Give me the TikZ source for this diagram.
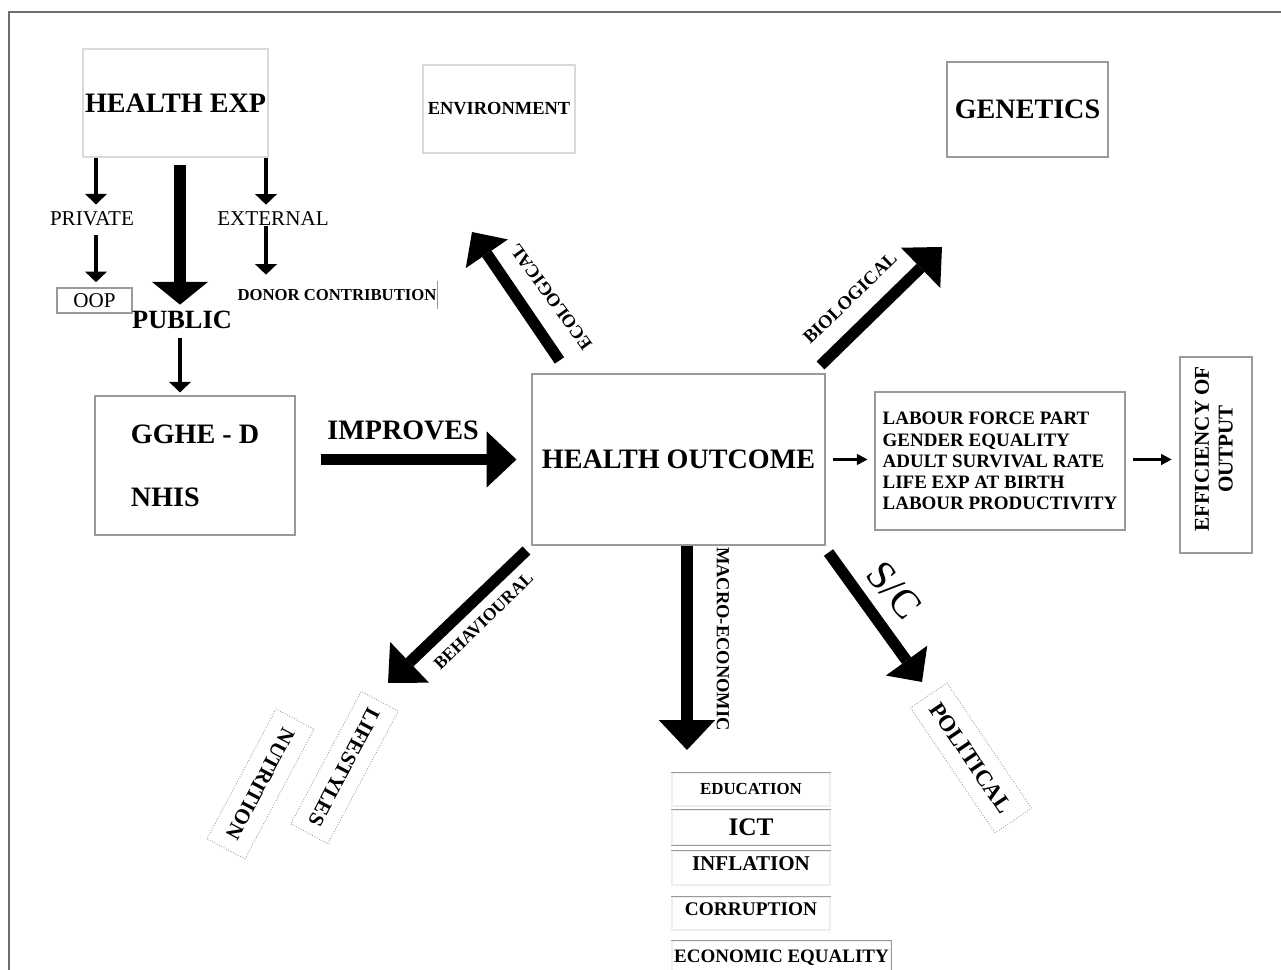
\documentclass[tikz,border=0pt]{standalone}
\usepackage{fontspec}
\setmainfont{Liberation Serif}
\usepackage{tikz}
\usetikzlibrary{arrows.meta}
\definecolor{framegray}{HTML}{6E6E6E}
\definecolor{edgegray}{HTML}{9A9A9A}
\definecolor{faintgray}{HTML}{DADADA}
\definecolor{palegray}{HTML}{EEEEEE}
\newcommand{\setfs}[1]{\fontsize{#1}{#1}\selectfont}

\begin{document}
\begin{tikzpicture}[
  box/.style={rectangle,draw=edgegray,line width=0.6pt,inner sep=0pt,align=center},
  faintbox/.style={box,draw=faintgray},
  econ/.style={box,draw=palegray},
  turned/.style={rectangle,draw=edgegray,densely dotted,line width=0.5pt,inner sep=0pt,font=\bfseries\setfs{12}},
  lbl/.style={inner sep=0pt},
  fatarr/.style={line width=6.4pt,-{Triangle[length=17pt,width=32pt,line width=0pt]}},
  thinarr/.style={line width=2.3pt,-{Triangle[length=6pt,width=12.5pt,line width=0pt]}},
  slimarr/.style={line width=1.3pt,-{Triangle[length=6pt,width=6.5pt,line width=0pt]}},
]
\useasboundingbox (0,0) rectangle (25.62,19.40);
% Frame
\coordinate (framebl) at (0.18,0);
\coordinate (framecorner) at (0.18,19.16);
\coordinate (frametr) at (25.62,19.16);
\draw[framegray,line width=0.9pt] (framebl) -- (framecorner) -- (frametr);

% Top row: spending and the two far boxes
\node[faintbox,minimum width=3.70cm,minimum height=2.16cm,font=\bfseries\setfs{16}] (hexp) at (3.51,17.34) {HEALTH EXP};
\node[faintbox,minimum width=3.04cm,minimum height=1.76cm,font=\bfseries\setfs{10.5}] (env) at (9.98,17.22) {ENVIRONMENT};
\node[box,minimum width=3.22cm,minimum height=1.90cm,font=\bfseries\setfs{16}] (gen) at (20.55,17.21) {GENETICS};
\node[lbl,font=\setfs{12}] (private) at (1.84,15.02) {PRIVATE};
\node[lbl,font=\setfs{12}] (external) at (5.46,15.02) {EXTERNAL};
\node[box,minimum width=1.50cm,minimum height=0.50cm,font=\setfs{12}] (oop) at (1.89,13.39) {OOP};
\node[lbl,minimum width=4.0cm,minimum height=0.54cm,font=\bfseries\setfs{9.5}] (donor) at (6.74,13.50) {DONOR CONTRIBUTION};
\draw[edgegray,line width=0.6pt] (donor.north east) -- (donor.south east);
\node[lbl,font=\bfseries\setfs{15}] (public) at (3.64,13.00) {PUBLIC};

% Middle row
\node[box,minimum width=4.0cm,minimum height=2.78cm,align=left,font=\bfseries\fontsize{16}{36}\selectfont] (gghe) at (3.90,10.09) {GGHE - D\\NHIS};
\node[box,minimum width=5.86cm,minimum height=3.42cm,font=\bfseries\setfs{16}] (outcome) at (13.57,10.21) {HEALTH OUTCOME};
\node[box,minimum width=5.0cm,minimum height=2.76cm,align=left,font=\bfseries\fontsize{10.8}{12}\selectfont] (labour) at (20.0,10.18) {LABOUR FORCE PART\\GENDER EQUALITY\\ADULT SURVIVAL RATE\\LIFE EXP AT BIRTH\\LABOUR PRODUCTIVITY};
\node[box,minimum width=1.44cm,minimum height=3.92cm,font=\bfseries\fontsize{12}{13.5}\selectfont] (effic) at (24.32,10.30) {\rotatebox{90}{\hspace*{0.12cm}\begin{tabular}{@{}c@{}}EFFICIENCY OF\\OUTPUT\end{tabular}\hspace*{-0.12cm}}};

% Bottom: macro list and tilted boxes
\node[econ,minimum width=3.16cm,minimum height=0.66cm,font=\bfseries\setfs{9.6}] (educ) at (15.02,3.61) {EDUCATION};
\node[econ,minimum width=3.16cm,minimum height=0.70cm,font=\bfseries\setfs{14.4}] (ict) at (15.02,2.85) {ICT};
\node[econ,minimum width=3.16cm,minimum height=0.68cm,text depth=5pt,font=\bfseries\setfs{12}] (infl) at (15.02,2.04) {INFLATION};
\node[econ,minimum width=3.16cm,minimum height=0.66cm,text depth=5pt,font=\bfseries\setfs{11}] (corr) at (15.02,1.13) {CORRUPTION};
\node[econ,minimum width=4.38cm,minimum height=0.68cm,font=\bfseries\setfs{10.8}] (eqty) at (15.63,0.24) {ECONOMIC EQUALITY};
\foreach \n in {educ,ict,infl,corr,eqty}
  \draw[edgegray,line width=0.6pt] (\n.north west) -- (\n.north east);
\draw[edgegray,line width=0.6pt] (ict.south west) -- (ict.south east);
\draw[edgegray,line width=0.6pt] (eqty.north east) -- (eqty.south east);
\node[turned,rotate=-118,minimum width=3.0cm,minimum height=0.84cm] (life) at (6.89,4.05) {LIFESTYLES};
\node[turned,rotate=-118,minimum width=2.94cm,minimum height=0.86cm] (nutri) at (5.21,3.72) {NUTRITION};
\node[turned,rotate=-56,minimum width=3.02cm,minimum height=0.88cm,font=\bfseries\setfs{13}] (politic) at (19.42,4.24) {POLITICAL};

% Spending flows
\coordinate (pubx) at (3.60,0);
\coordinate (privx) at (1.92,0);
\coordinate (extx) at (5.32,0);
\draw[fatarr,-{Triangle[length=13pt,width=32pt,line width=0pt]},shorten <=4.5pt,shorten >=3.5pt] (pubx |- hexp.south) -- (pubx |- public.north);
\draw[thinarr,shorten >=4pt] (privx |- hexp.south) -- (privx |- private.north);
\draw[thinarr,shorten <=5pt,shorten >=3pt] (privx |- private.south) -- (privx |- oop.north);
\draw[thinarr,shorten >=4pt] (extx |- hexp.south) -- (extx |- external.north);
\draw[thinarr,shorten >=3.7pt] (extx |- external.south) -- (extx |- donor.north);
\draw[thinarr,shorten <=5pt,shorten >=1.7pt] (pubx |- public.south) -- (pubx |- gghe.north);

% Main flow
\draw[fatarr,shorten <=0.5cm,shorten >=0.3cm] (gghe.east |- outcome) -- node[lbl,pos=0.456,above=8pt,font=\bfseries\setfs{16}] (improves) {IMPROVES} (outcome.west);
\draw[slimarr,shorten <=4pt,shorten >=4pt] (outcome.east) -- (labour.west |- outcome.east);
\draw[slimarr,shorten <=4.5pt,shorten >=4.5pt] (labour.east |- outcome.east) -- (effic.west |- outcome.east);

% Determinants
\coordinate (ecotip) at (9.44,14.76);
\coordinate (biotip) at (18.84,14.46);
\coordinate (behtip) at (7.76,5.74);
\coordinate (mactip) at (13.74,4.40);
\coordinate (sctip) at (18.44,5.76);
\draw[fatarr,-{Triangle[length=15pt,width=29pt,line width=0pt]}] ([shift={(0.56,0.26)}]outcome.north west) -- (ecotip);
\draw[fatarr] ([shift={(-0.10,0.16)}]outcome.north east) -- (biotip);
\draw[fatarr] ([shift={(-0.10,-0.10)}]outcome.south west) -- (behtip);
\draw[fatarr] (outcome.south -| mactip) -- (mactip);
\draw[fatarr,-{Triangle[length=15pt,width=29pt,line width=0pt]}] ([shift={(0.06,-0.14)}]outcome.south east) -- (sctip);
\node[lbl,rotate=126,font=\bfseries\setfs{10.4}] (ecolbl) at (11.02,13.46) {ECOLOGICAL};
\node[lbl,rotate=44,font=\bfseries\setfs{10.6}] (biolbl) at (17.0,13.44) {BIOLOGICAL};
\node[lbl,rotate=44,font=\bfseries\setfs{10}] (behlbl) at (9.67,6.98) {BEHAVIOURAL};
\node[lbl,rotate=-90,font=\bfseries\setfs{10.5}] (maclbl) at (14.46,6.62) {MACRO-ECONOMIC};
\node[lbl,rotate=-50,font=\setfs{23}] (sclbl) at (17.88,7.60) {S/C};
\end{tikzpicture}
\end{document}
